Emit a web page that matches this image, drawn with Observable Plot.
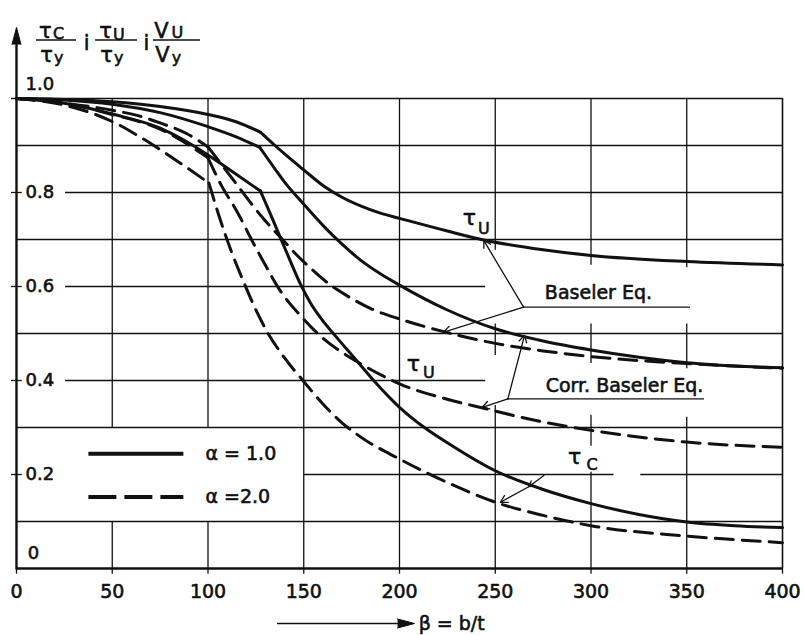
<!DOCTYPE html>
<html><head><meta charset="utf-8">
<script src="https://cdn.jsdelivr.net/npm/d3@7"></script>
<script src="https://cdn.jsdelivr.net/npm/@observablehq/plot@0.6"></script>
<style>body{margin:0;background:#fff} svg{display:block}</style>
</head><body><div id="chart"></div>
<script>
// ---- data (beta = b/t, ratio) ----
const tauU_Baseler_a1 = [[0,1.0],[25,0.998],[50,0.993],[75,0.983],[100,0.966],[115,0.95],[127.5,0.928],
  [135,0.90],[140,0.882],[150,0.848],[160,0.815],[170,0.79],[180,0.771],[190,0.756],[200,0.745],[225,0.718],[244,0.699],[275,0.678],[300,0.666],[350,0.653],[400,0.646]];
const tauU_Corr_a1 = [[0,1.0],[25,0.997],[50,0.988],[75,0.97],[100,0.94],[115,0.918],[127,0.896],
  [135,0.85],[140,0.822],[150,0.775],[160,0.73],[170,0.69],[180,0.655],[190,0.627],[200,0.603],[225,0.55],[250,0.51],[275,0.484],[300,0.465],[350,0.438],[400,0.427]];
const tauC_a1 = [[0,1.0],[25,0.99],[50,0.967],[75,0.937],[100,0.88],[110,0.852],[127.4,0.803],
  [132,0.76],[137.9,0.703],[143,0.654],[148.3,0.605],[153.5,0.565],[160,0.527],[166.5,0.495],[176,0.45],[186.5,0.40],[200,0.343],[213,0.30],[226,0.265],[250,0.208],[275,0.168],[300,0.138],[325,0.115],[350,0.099],[375,0.091],[400,0.087]];
const tauU_Baseler_a2 = [[0,1.0],[25,0.99],[50,0.975],[63,0.964],[75,0.948],[89,0.925],[100,0.897],
  [112.6,0.83],[129,0.744],[140,0.695],[146.6,0.666],[152,0.645],[164,0.603],[172.7,0.58],[185,0.553],[200,0.531],[223,0.504],[250,0.479],[275,0.463],[300,0.451],[350,0.436],[400,0.426]];
const tauU_Corr_a2 = [[0,1.0],[25,0.99],[50,0.966],[75,0.935],[100,0.874],
  [107.4,0.812],[114.4,0.765],[124,0.69],[130,0.645],[137.9,0.59],[148.3,0.538],[160,0.49],[170,0.46],[180,0.435],[200,0.393],[225,0.36],[244,0.341],[270,0.316],[300,0.294],[350,0.269],[400,0.258]];
const tauC_a2 = [[0,1.0],[25,0.986],[50,0.951],[65,0.917],[85,0.864],[100.5,0.82],
  [105.6,0.752],[112.6,0.67],[118.7,0.609],[123,0.568],[130,0.51],[140,0.448],[150,0.398],[160,0.35],[170,0.31],[180,0.279],[200,0.233],[225,0.183],[250,0.141],[275,0.113],[300,0.091],[350,0.069],[400,0.055]];
// kink position (beta) of each curve
const kinks = {tauU_Baseler_a1:127.5, tauU_Corr_a1:127, tauC_a1:127.4, tauU_Baseler_a2:100, tauU_Corr_a2:100, tauC_a2:100.5};

const xTicks = [0,50,100,150,200,250,300,350,400];
const xTickLabels = ["0","50","100","150","200","250","300","350","400"];
const yTicks = [1.0,0.8,0.6,0.4,0.2];
const yTickLabels = ["1.0","0.8","0.6","0.4","0.2"];

// grid segments (gaps where the drawing leaves room for labels)
const hGrid = [
  {y:1.0,x1:-2.6,x2:400},{y:0.9,x1:0,x2:400},{y:0.8,x1:25.6,x2:400},{y:0.7,x1:0,x2:400},
  {y:0.6,x1:25.6,x2:245},{y:0.5,x1:0,x2:400},{y:0.4,x1:25.6,x2:245},{y:0.3,x1:0,x2:400},
  {y:0.2,x1:150,x2:312},{y:0.2,x1:326,x2:400},{y:0.1,x1:0,x2:400}
];
const vGrid = [
  {x:50,y1:0,y2:0.1},{x:50,y1:0.3,y2:1},{x:100,y1:0,y2:0.1},{x:100,y1:0.3,y2:1},
  {x:150,y1:0,y2:1},{x:200,y1:0,y2:1},
  {x:250,y1:0,y2:0.347},{x:250,y1:0.453,y2:0.52},{x:250,y1:0.677,y2:1},
  {x:300,y1:0,y2:0.205},{x:300,y1:0.26,y2:0.326},{x:300,y1:0.436,y2:0.52},{x:300,y1:0.645,y2:1},
  {x:350,y1:0,y2:0.322},{x:350,y1:0.425,y2:0.52},{x:350,y1:0.64,y2:1}
];

// annotations
const arrows = [
  {x1:264.8,y1:0.556,x2:244,y2:0.698},{x1:264.8,y1:0.556,x2:223.1,y2:0.503},
  {x1:256.6,y1:0.361,x2:265.3,y2:0.496},{x1:256.6,y1:0.361,x2:243.2,y2:0.343},
  {x1:275.4,y1:0.198,x2:267.5,y2:0.174},{x1:267.5,y1:0.174,x2:252.7,y2:0.141}
];
const underlines = [{y:0.556,x1:264.8,x2:352},{y:0.361,x1:256.4,x2:359.3}];
const eqLabels = [{t:"Baseler Eq.",x:303.9,y:0.586},{t:"Corr. Baseler Eq.",x:317.5,y:0.389}];
const tauLabels = [{t:"τ",x:236.5,y:0.745},{t:"τ",x:207.3,y:0.436},{t:"τ",x:291.4,y:0.238}];
const subLabels = [{t:"U",x:244,y:0.722},{t:"U",x:215.3,y:0.417},{t:"C",x:300.5,y:0.221}];

// y-axis title pieces: three fractions
const titleMain = [{t:"τ",x:15.1,y:1.143},{t:"τ",x:15.7,y:1.093},{t:"τ",x:46.5,y:1.143},{t:"τ",x:47,y:1.093},
  {t:"V",x:75.7,y:1.143},{t:"V",x:76.2,y:1.093},{t:"i",x:36.6,y:1.117},{t:"i",x:67.8,y:1.117}];
const titleSub = [{t:"C",x:22,y:1.137},{t:"y",x:22,y:1.086},{t:"U",x:53.4,y:1.135},{t:"y",x:53.4,y:1.086},
  {t:"U",x:84,y:1.139},{t:"y",x:83.6,y:1.086}];
const titleBars = [{y:1.1245,x1:10.4,x2:31.3},{y:1.1245,x1:41.3,x2:63.2},{y:1.1245,x1:71.5,x2:96.1}];

const legendItems = [{label:"α = 1.0",y:0.244,dash:null},{label:"α =2.0",y:0.152,dash:"28,8"}];

// ---- build ----
function seg(name, pts){
  const k = kinks[name];
  const out = [];
  pts.forEach(([b,v]) => {
    if (b <= k) out.push({b, v, z: name+"a"});
    if (b >= k) out.push({b, v, z: name+"b"});
  });
  return out;
}
const solid = [...seg("tauU_Baseler_a1",tauU_Baseler_a1),...seg("tauU_Corr_a1",tauU_Corr_a1),...seg("tauC_a1",tauC_a1)];
const dashed = [...seg("tauU_Baseler_a2",tauU_Baseler_a2),...seg("tauU_Corr_a2",tauU_Corr_a2),...seg("tauC_a2",tauC_a2)];

const font = "DejaVu Sans";
const ink = "#111";
const bold = {fill: ink, stroke: ink, strokeWidth: 0.6};
const chart = Plot.plot({
  width: 804, height: 635,
  marginLeft: 16, marginRight: 22, marginTop: 98, marginBottom: 67,
  style: {fontFamily: font, background: "#fff"},
  x: {domain: [0,400], axis: null},
  y: {domain: [0,1], axis: null},
  marks: [
    Plot.ruleY(hGrid, {y:"y", x1:"x1", x2:"x2", stroke: ink, strokeWidth: 1.3}),
    Plot.ruleY(yTicks.slice(1), {y: d=>d, x1: -2.6, x2: 3, stroke: ink, strokeWidth: 1.3}),
    Plot.ruleX(vGrid, {x:"x", y1:"y1", y2:"y2", stroke: ink, strokeWidth: 1.3}),
    Plot.ruleX(xTicks, {x: d=>d, y1: -0.012, y2: 0, stroke: ink, strokeWidth: 1.3}),
    Plot.ruleY([0], {x1: 0, x2: 400, stroke: ink, strokeWidth: 2.4}),
    Plot.ruleX([400], {y1: 0, y2: 1, stroke: ink, strokeWidth: 1.6}),
    Plot.ruleX([0], {y1: -0.003, y2: 1.12, stroke: ink, strokeWidth: 2.4}),
    Plot.vector([0], {x: 0, y: 1.115, length: 17, r: 4.5, shape: "spike", anchor: "start", fill: ink, stroke: ink, strokeWidth: 1}),
    // curves
    Plot.line(solid, {x:"b", y:"v", z:"z", curve:"monotone-x", stroke: ink, strokeWidth: 3}),
    Plot.line(dashed, {x:"b", y:"v", z:"z", curve:"monotone-x", stroke: ink, strokeWidth: 3, strokeDasharray: "18,9"}),
    // legend
    Plot.ruleY(legendItems.filter(d=>!d.dash), {y:"y", x1: 37.8, x2: 87.4, stroke: ink, strokeWidth: 4}),
    Plot.ruleY(legendItems.filter(d=>d.dash), {y:"y", x1: 37.8, x2: 87.4, stroke: ink, strokeWidth: 4, strokeDasharray: "28,8"}),
    Plot.text(legendItems, {x: 98.7, y:"y", text:"label", textAnchor:"start", fontSize: 19, ...bold}),
    // annotations
    Plot.arrow(arrows, {x1:"x1", y1:"y1", x2:"x2", y2:"y2", stroke: ink, strokeWidth: 1.3, headLength: 9}),
    Plot.ruleY(underlines, {y:"y", x1:"x1", x2:"x2", stroke: ink, strokeWidth: 1.3}),
    Plot.text(eqLabels, {x:"x", y:"y", text:"t", fontSize: 19, ...bold}),
    Plot.text(tauLabels, {x:"x", y:"y", text:"t", fontSize: 22, ...bold}),
    Plot.text(subLabels, {x:"x", y:"y", text:"t", fontSize: 16, ...bold}),
    // tick labels
    Plot.text(xTicks, {x: d=>d, y: -0.049, text: (d,i)=>xTickLabels[i], fontSize: 19, ...bold}),
    Plot.text(yTicks, {x: 4.7, y: (d,i)=> i===0 ? 1.031 : d, text: (d,i)=>yTickLabels[i], textAnchor:"start", fontSize: 18, ...bold}),
    Plot.text(["0"], {x: 8.9, y: 0.032, text: d=>d, fontSize: 18, ...bold}),
    // x label
    Plot.ruleY([-0.117], {x1: 136.3, x2: 199.5, stroke: ink, strokeWidth: 1.6}),
    Plot.vector([0], {x: 199, y: -0.117, length: 17, r: 4.5, rotate: 90, shape: "spike", anchor: "start", fill: ink, stroke: ink, strokeWidth: 1}),
    Plot.text(["β = b/t"], {x: 210, y: -0.117, text: d=>d, textAnchor: "start", fontSize: 19, ...bold}),
    // y title
    Plot.text(titleMain, {x:"x", y:"y", text:"t", fontSize: 21, ...bold}),
    Plot.text(titleSub, {x:"x", y:"y", text:"t", fontSize: 16, ...bold}),
    Plot.ruleY(titleBars, {y:"y", x1:"x1", x2:"x2", stroke: ink, strokeWidth: 1.5})
  ]
});
document.getElementById("chart").appendChild(chart);
</script>
</body></html>
